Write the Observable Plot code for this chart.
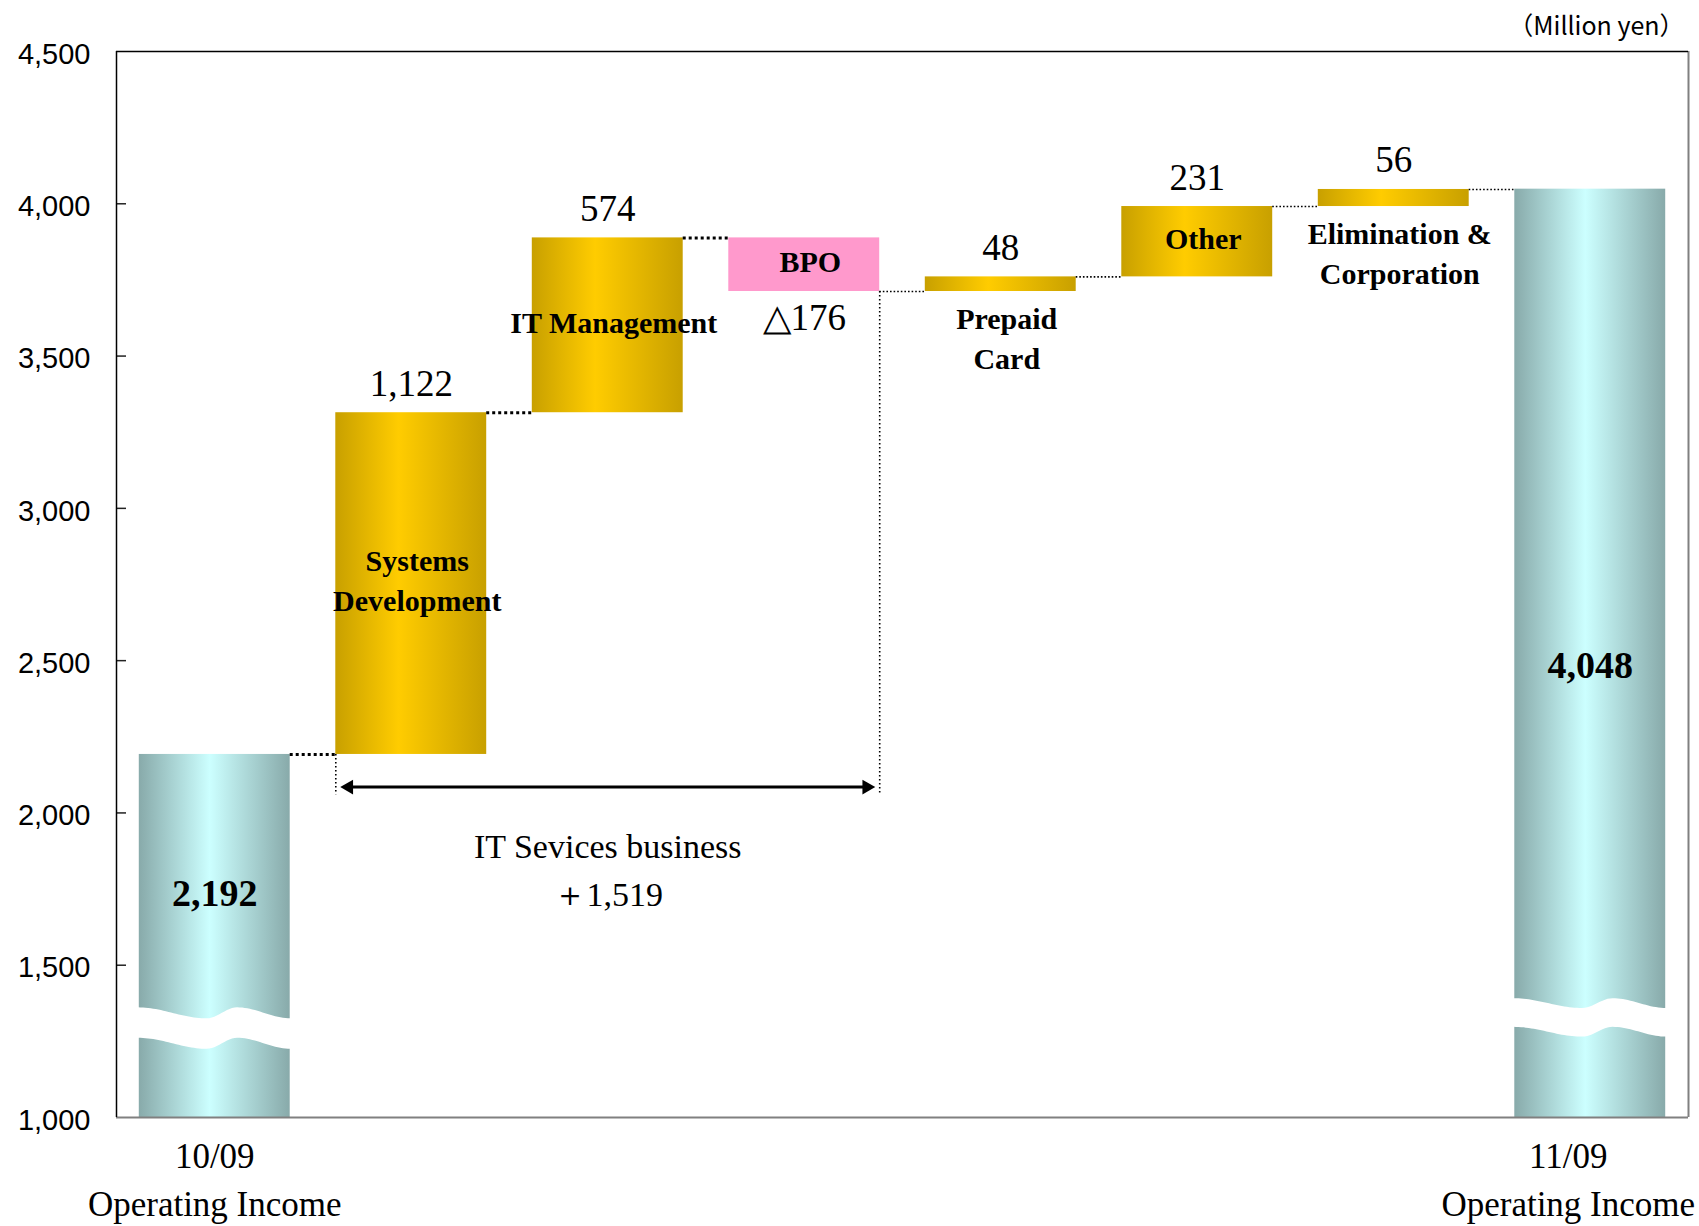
<!DOCTYPE html>
<html>
<head>
<meta charset="utf-8">
<script src="https://cdn.jsdelivr.net/npm/d3@7"></script>
<script src="https://cdn.jsdelivr.net/npm/@observablehq/plot@0.6"></script>
<style>
  html, body { margin: 0; padding: 0; background: #fff; }
  #chart { width: 1699px; height: 1226px; }
</style>
</head>
<body>
<div id="chart"></div>
<script>
// ---------------- data ----------------
const categories = ["10/09", "Systems Development", "IT Management", "BPO", "Prepaid Card", "Other", "Elimination & Corporation", "11/09"];
const barLabels = ["", "Systems\nDevelopment", "IT Management", "BPO", "Prepaid\nCard", "Other", "Elimination &\nCorporation", ""];
const startTotal = 2192;
const endTotal = 4048;
const deltas = [null, 1122, 574, -176, 48, 231, 56, null];
const totalCaption = "Operating Income";
const bracketCaption = "IT Sevices business";
const itServicesTotal = 1519;
const yTicks = [1000, 1500, 2000, 2500, 3000, 3500, 4000, 4500];
const unitLabel = "（Million yen）";

// ---------------- layout ----------------
const W = 1699, H = 1226;
const mL = 116, mR = 11, mT = 51, mB = 109;
const yMin = 1000, yMax = 4500;
const xDom = [-0.5, categories.length - 0.5];
const unitPx = (W - mL - mR) / categories.length;
const hw = 0.384;              // bar half-width in x units
const tickLen = 10 / unitPx;   // 10px tick, in x units
const fmt = d3.format(",");
const serif = "Liberation Serif, Times New Roman, serif";
const sans = "Liberation Sans, Arial, sans-serif";

// build rows
let level = startTotal;
const rows = categories.map((c, i) => {
  const last = categories.length - 1;
  if (i === 0) return {i, c, label: barLabels[i], kind: "total", lo: yMin, hi: startTotal, value: startTotal, after: startTotal};
  if (i === last) return {i, c, label: barLabels[i], kind: "total", lo: yMin, hi: endTotal, value: endTotal, after: endTotal};
  const from = level; level += deltas[i];
  return {i, c, label: barLabels[i], kind: deltas[i] >= 0 ? "up" : "down",
          lo: Math.min(from, level), hi: Math.max(from, level), value: deltas[i], after: level};
});
const totals = rows.filter(d => d.kind === "total");
const ups = rows.filter(d => d.kind === "up");
const downs = rows.filter(d => d.kind === "down");
const deltaRows = rows.filter(d => d.kind !== "total");

const connectors = rows.slice(0, -1).map(d => ({i: d.i, y: d.after, x1: d.i + hw, x2: d.i + 1 - hw}));
const thickConn = connectors.filter(d => d.i <= 2);
const thinConn = connectors.filter(d => d.i > 2);

// break (wave) marks on the two total bars
const breakSpec = [{i: 0, c: 1342, A: 18, T: 100}, {i: categories.length - 1, c: 1374, A: 16, T: 94}];
function waveShape(t) {
  if (t <= 0.45) return Math.cos(Math.PI * t / 0.45);
  if (t <= 0.65) return -Math.cos(Math.PI * (t - 0.45) / 0.2);
  return Math.cos(Math.PI * (t - 0.65) / 0.35);
}
const breakPts = [];
for (const b of breakSpec) {
  for (let k = 0; k <= 60; k++) {
    const t = k / 60;
    const f = waveShape(t);
    breakPts.push({bar: b.i, x: b.i - hw - 0.004 + t * (2 * hw + 0.008), y1: b.c + b.A * f, y2: b.c - b.T + b.A * f});
  }
}

// bracket for IT services business (bars 1..3)
const bracketFrom = 1, bracketTo = 3;
const bracketY = 2085, bracketBottom = 2060;
const bracketVerticals = [
  {x: bracketFrom - hw, y1: rows[bracketFrom - 1].after, y2: bracketBottom},
  {x: bracketTo + hw, y1: rows[bracketTo].after, y2: bracketBottom}
];

const totalLabelAt = [1735, 2484];

const plot = Plot.plot({
  width: W, height: H,
  marginLeft: mL, marginRight: mR, marginTop: mT, marginBottom: mB,
  style: {fontFamily: sans, fontSize: "29px", color: "black", background: "white", overflow: "visible"},
  x: {type: "linear", domain: xDom, axis: null},
  y: {domain: [yMin, yMax], label: null},
  marks: [
    // bars
    Plot.rectY(totals, {x1: d => d.i - hw, x2: d => d.i + hw, y1: "lo", y2: "hi", fill: "url(#tealGrad)"}),
    Plot.rectY(ups, {x1: d => d.i - hw, x2: d => d.i + hw, y1: "lo", y2: "hi", fill: "url(#goldGrad)"}),
    Plot.rectY(downs, {x1: d => d.i - hw, x2: d => d.i + hw, y1: "lo", y2: "hi", fill: "#FF99CC"}),
    // break waves
    Plot.areaY(breakPts, {x: "x", y1: "y1", y2: "y2", z: "bar", fill: "white", curve: "linear"}),
    // connectors
    Plot.ruleY(thickConn, {y: "y", x1: "x1", x2: "x2", stroke: "black", strokeWidth: 3, strokeDasharray: "3,3"}),
    Plot.ruleY(thinConn, {y: "y", x1: "x1", x2: "x2", stroke: "black", strokeWidth: 1.6, strokeDasharray: "1.6,2"}),
    // bracket
    Plot.ruleX(bracketVerticals, {x: "x", y1: "y1", y2: "y2", stroke: "black", strokeWidth: 1.6, strokeDasharray: "1.6,2.4"}),
    Plot.ruleY([bracketY], {x1: bracketFrom - hw, x2: bracketTo + hw, insetLeft: 12, insetRight: 12, stroke: "black", strokeWidth: 3}),
    Plot.dot([bracketFrom - hw], {x: d => d, y: bracketY, symbol: "triangle", r: 5.5, rotate: -90, dx: 13, fill: "black", stroke: null}),
    Plot.dot([bracketTo + hw], {x: d => d, y: bracketY, symbol: "triangle", r: 5.5, rotate: 90, dx: -13, fill: "black", stroke: null}),
    Plot.text([`${bracketCaption}\n＋${fmt(itServicesTotal)}`], {x: (bracketFrom + bracketTo) / 2, y: bracketY, lineAnchor: "top", dy: 37, lineHeight: 1.41, fontFamily: serif, fontSize: 34, fill: "black"}),
    // value labels
    Plot.text(ups, {x: "i", y: "hi", text: d => fmt(d.value), lineAnchor: "bottom", dy: -17, fontFamily: serif, fontSize: 37, fill: "black"}),
    Plot.text(downs, {x: "i", y: "lo", text: d => "△" + fmt(-d.value), lineAnchor: "top", dy: 12, fontFamily: serif, fontSize: 37, fill: "black"}),
    Plot.text(totals, {x: "i", y: (d, k) => totalLabelAt[k], text: d => fmt(d.value), lineAnchor: "middle", fontFamily: serif, fontSize: 38, fontWeight: "bold", fill: "black"}),
    // category labels
    Plot.text(deltaRows.filter(d => Math.abs(d.value) >= 100), {x: "i", y: d => (d.lo + d.hi) / 2, text: "label", lineAnchor: "middle", lineHeight: 1.33, dx: 6, dy: -5, fontFamily: serif, fontSize: 30, fontWeight: "bold", fill: "black"}),
    Plot.text(deltaRows.filter(d => Math.abs(d.value) < 100), {x: "i", y: "lo", text: "label", lineAnchor: "top", lineHeight: 1.33, dx: 6, dy: 9, fontFamily: serif, fontSize: 30, fontWeight: "bold", fill: "black"}),
    // x captions below the frame
    Plot.text(totals.slice(0, 1), {x: "i", frameAnchor: "bottom", text: d => `${d.c}\n${totalCaption}`, lineAnchor: "top", dy: 16, lineHeight: 1.38, fontFamily: serif, fontSize: 35, fill: "black"}),
    Plot.text(totals.slice(1), {x: "i", frameAnchor: "bottom", text: d => `${d.c}\n${totalCaption}`, lineAnchor: "top", dy: 16, dx: -22, lineHeight: 1.38, fontFamily: serif, fontSize: 35, fill: "black"}),
    // unit label
    Plot.text([unitLabel], {frameAnchor: "top-right", textAnchor: "end", lineAnchor: "bottom", dy: -17, dx: -4, fontFamily: "Noto Sans CJK JP, sans-serif", fontSize: 25, fill: "black"}),
    // y axis
    Plot.axisY(yTicks, {tickSize: 0, tickPadding: 26, tickFormat: fmt, dy: 3, fontSize: 29, fontFamily: sans, label: null}),
    Plot.ruleY(yTicks.filter(v => v > yMin && v < yMax), {y: d => d, x1: xDom[0], x2: xDom[0] + tickLen, stroke: "#222", strokeWidth: 1.5}),
    // frame
    Plot.ruleY([yMin], {stroke: "#808080", strokeWidth: 2}),
    Plot.ruleX([xDom[1]], {stroke: "#808080", strokeWidth: 2}),
    Plot.ruleY([yMax], {stroke: "black", strokeWidth: 1.5}),
    Plot.ruleX([xDom[0]], {stroke: "black", strokeWidth: 1.5})
  ]
});

// gradients
const defs = d3.select(plot).insert("defs", ":first-child");
function grad(id, stops) {
  const g = defs.append("linearGradient").attr("id", id).attr("x1", 0).attr("x2", 1).attr("y1", 0).attr("y2", 0);
  for (const [o, c] of stops) g.append("stop").attr("offset", o).attr("stop-color", c);
}
grad("goldGrad", [[0, "#C8A000"], [0.42, "#FFCC00"], [1, "#C8A000"]]);
grad("tealGrad", [[0, "#88AAAA"], [0.47, "#CCFFFF"], [1, "#88AAAA"]]);

document.getElementById("chart").appendChild(plot);
</script>
</body>
</html>
